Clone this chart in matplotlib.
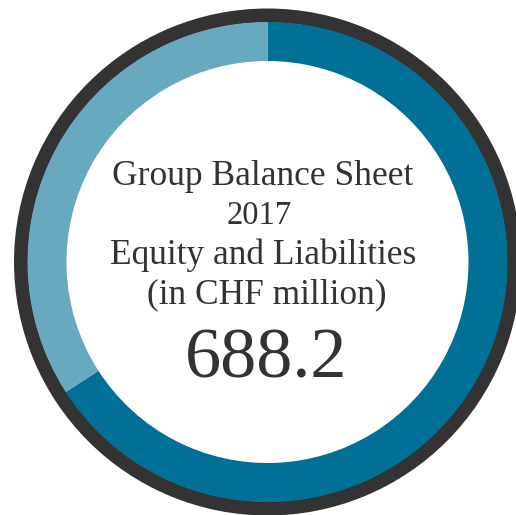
import matplotlib.pyplot as plt

# Group balance sheet 2017, equity and liabilities (CHF million)
segments = ["Liabilities", "Equity"]
values = [453.5, 234.7]
seg_colors = ["#007096", "#67aac0"]
total_label = "688.2"
title_lines = ["Group Balance Sheet", "2017", "Equity and Liabilities", "(in CHF million)"]

fig = plt.figure(figsize=(5.16, 5.15), dpi=100)
ax = fig.add_axes([0, 0, 1, 1])

cx, cy = 267.5, 253

# outer dark ring
ax.pie([1], radius=253.5, center=(cx, cy), colors=["#333333"],
       wedgeprops=dict(width=14, linewidth=0))

# data ring, clockwise from 12 o'clock
ax.pie(values, radius=240, center=(cx, cy), colors=seg_colors,
       startangle=90, counterclock=False,
       wedgeprops=dict(width=39, linewidth=0))

ax.set_xlim(0, 516)
ax.set_ylim(0, 515)
ax.set_aspect("equal")
ax.axis("off")

# centre text
txt_kw = dict(ha="center", va="baseline", color="#333333", family="Liberation Serif")
baselines = [515 - 185, 515 - 224, 515 - 264, 515 - 303]
x_centres = [263, 259.5, 263, 267]
sizes = [25.5, 23.5, 25.5, 25.5]
for line, xc, yb, fs in zip(title_lines, x_centres, baselines, sizes):
    ax.text(xc, yb, line, fontsize=fs, **txt_kw)
ax.text(266, 515 - 378, total_label, fontsize=52, **txt_kw)

fig.savefig("out.png", dpi=100)
